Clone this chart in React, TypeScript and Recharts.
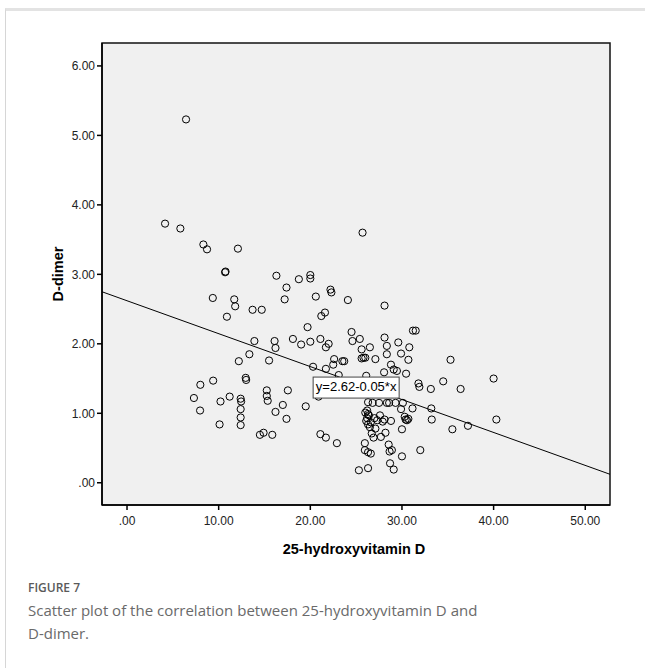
import React from "react";
import {
  ScatterChart,
  Scatter,
  XAxis,
  YAxis,
  CartesianGrid,
  ReferenceLine,
  ReferenceArea,
  ReferenceDot,
  Label,
} from "recharts";

// 25-hydroxyvitamin D (x) and D-dimer (y) per patient
const vitaminD = [
  6.44, 4.15, 5.82, 8.33, 8.73, 12.1, 10.7, 10.75, 16.3, 17.4,
  18.75, 20.0, 20.0, 22.2, 22.3, 25.7, 20.6, 24.1, 9.36, 11.7,
  11.8, 10.9, 13.7, 14.7, 17.2, 19.7, 21.2, 21.6, 24.5, 24.6,
  25.4, 25.6, 13.9, 16.1, 16.2, 18.1, 19.0, 20.0, 21.1, 21.7,
  22.0, 13.35, 12.2, 15.5, 20.3, 21.7, 22.6, 22.5, 23.5, 23.7,
  23.1, 25.8, 26.0, 9.4, 8.0, 7.3, 7.97, 10.1, 10.2, 11.2,
  12.4, 12.45, 12.4, 12.4, 12.4, 12.95, 13.0, 15.25, 15.25, 15.35,
  17.55, 17.0, 16.2, 17.4, 19.5, 14.5, 14.9, 15.85, 21.1, 21.7,
  22.9, 25.3, 26.3, 28.1, 31.2, 31.5, 26.5, 28.1, 28.35, 29.6,
  30.8, 29.9, 28.35, 30.7, 27.1, 35.3, 28.8, 29.1, 29.45, 28.05,
  30.45, 26.1, 31.8, 31.9, 33.15, 34.5, 36.4, 40.0, 40.3, 37.2,
  35.5, 33.25, 33.2, 31.15, 32.0, 30.0, 30.4, 30.55, 30.7, 30.3,
  29.9, 30.1, 29.3, 28.6, 28.35, 27.5, 26.8, 26.3, 28.8, 28.1,
  27.9, 27.6, 27.1, 28.2, 26.9, 27.7, 26.7, 26.2, 26.3, 26.2,
  26.1, 26.3, 26.5, 25.95, 25.95, 26.3, 26.6, 28.55, 28.65, 28.9,
  28.7, 29.1, 30.0, 20.9, 26.0, 26.4, 27.0, 27.3, 26.6, 25.6,
];

const dDimer = [
  5.23, 3.73, 3.66, 3.43, 3.36, 3.37, 3.03, 3.04, 2.98, 2.81,
  2.93, 2.99, 2.94, 2.78, 2.74, 3.6, 2.68, 2.63, 2.66, 2.64,
  2.54, 2.39, 2.49, 2.49, 2.64, 2.24, 2.4, 2.45, 2.17, 2.04,
  2.07, 1.92, 2.04, 2.04, 1.94, 2.07, 1.99, 2.03, 2.07, 1.95,
  2.0, 1.85, 1.75, 1.76, 1.67, 1.64, 1.78, 1.7, 1.75, 1.75,
  1.55, 1.8, 1.8, 1.47, 1.41, 1.22, 1.04, 0.84, 1.17, 1.24,
  1.21, 1.17, 1.06, 0.94, 0.83, 1.51, 1.48, 1.33, 1.25, 1.18,
  1.33, 1.12, 1.02, 0.92, 1.1, 0.69, 0.72, 0.69, 0.7, 0.65,
  0.57, 0.18, 0.21, 2.55, 2.19, 2.19, 1.95, 2.09, 1.97, 2.02,
  1.95, 1.86, 1.85, 1.77, 1.78, 1.77, 1.7, 1.63, 1.61, 1.59,
  1.57, 1.54, 1.43, 1.38, 1.35, 1.46, 1.35, 1.5, 0.91, 0.82,
  0.77, 0.91, 1.07, 1.07, 0.47, 0.77, 0.91, 0.9, 0.92, 0.95,
  1.06, 1.15, 1.15, 1.15, 1.15, 1.15, 1.15, 1.16, 0.89, 0.91,
  0.88, 0.97, 0.78, 0.72, 0.65, 0.66, 0.71, 1.04, 0.99, 0.93,
  0.89, 0.84, 0.8, 0.57, 0.47, 0.44, 0.42, 0.55, 0.45, 0.47,
  0.28, 0.19, 0.38, 1.24, 1.01, 0.97, 0.93, 0.9, 0.87, 1.79,
];

const xTicks = [0, 10, 20, 30, 40, 50];
const yTicks = [0, 1, 2, 3, 4, 5, 6];

// fitted linear regression
const intercept = 2.62;
const slope = 0.0474;

const xDomain: [number, number] = [-2.73, 52.7];
const yDomain: [number, number] = [-0.32, 6.33];

const points = vitaminD.map((x, i) => ({ x, y: dDimer[i] }));
const fitAt = (x: number) => intercept - slope * x;
const equationText = `y=${intercept.toFixed(2)}-${slope.toFixed(2)}*x`;
const equationX = 25;

const fmt = (v: number) => (v === 0 ? ".00" : v.toFixed(2));

const FONT = "'Liberation Sans', Arial, sans-serif";

const OpenCircle = (props: any) => {
  const { cx, cy } = props;
  return <circle cx={cx} cy={cy} r={3.6} fill="none" stroke="#000" strokeWidth={1} />;
};

const EquationBox = (props: any) => {
  const { cx, cy } = props;
  const w = 86;
  const h = 21;
  return (
    <g>
      <rect x={cx - w / 2} y={cy - 6} width={w} height={h} fill="#fff" stroke="#444" strokeWidth={1} />
      <text
        x={cx}
        y={cy + 4.5}
        textAnchor="middle"
        dominantBaseline="middle"
        fontFamily={FONT}
        fontSize={13}
        fill="#000"
      >
        {equationText}
      </text>
    </g>
  );
};

export default function App() {
  return (
    <div
      style={{
        position: "absolute",
        left: 0,
        top: 0,
        width: 645,
        height: 668,
        background: "#fff",
        overflow: "hidden",
      }}
    >
      <div
        style={{
          position: "absolute",
          left: 5,
          top: 8,
          width: 660,
          height: 680,
          borderTop: "3px solid #e3e3e3",
          borderLeft: "1px solid #d6d6d6",
        }}
      />
      <div style={{ position: "absolute", left: 0, top: 0 }}>
        <ScatterChart
          width={645}
          height={560}
          margin={{ top: 43, right: 35, left: 0, bottom: 0 }}
        >
          <CartesianGrid fill="#f0f0f0" horizontal={false} vertical={false} />
          <XAxis
            type="number"
            dataKey="x"
            domain={xDomain}
            ticks={xTicks}
            tickFormatter={fmt}
            allowDataOverflow
            height={55}
            tickSize={5}
            tickMargin={6}
            axisLine={{ stroke: "#000", strokeWidth: 1.5 }}
            tickLine={{ stroke: "#000", strokeWidth: 1.5 }}
            tick={{ fontFamily: FONT, fontSize: 12, fill: "#222" }}
          >
            <Label
              content={(p: any) => {
                const vb = p.viewBox;
                return (
                  <text
                    x={vb.x + vb.width / 2 - 2}
                    y={vb.y + 49}
                    textAnchor="middle"
                    fontFamily={FONT}
                    fontWeight="bold"
                    fontSize={14.5}
                    fill="#000"
                  >
                    25-hydroxyvitamin D
                  </text>
                );
              }}
            />
          </XAxis>
          <YAxis
            type="number"
            dataKey="y"
            domain={yDomain}
            ticks={yTicks}
            tickFormatter={fmt}
            allowDataOverflow
            width={102}
            tickSize={5}
            tickMargin={2}
            axisLine={{ stroke: "#000", strokeWidth: 1.5 }}
            tickLine={{ stroke: "#000", strokeWidth: 1.5 }}
            tick={{ fontFamily: FONT, fontSize: 12, fill: "#222" }}
          >
            <Label
              content={(p: any) => {
                const vb = p.viewBox;
                const cx = 63;
                const cy = vb.y + vb.height / 2;
                return (
                  <text
                    x={cx}
                    y={cy}
                    transform={`rotate(-90, ${cx}, ${cy})`}
                    textAnchor="middle"
                    fontFamily={FONT}
                    fontWeight="bold"
                    fontSize={14.5}
                    fill="#000"
                  >
                    D-dimer
                  </text>
                );
              }}
            />
          </YAxis>
          <ReferenceArea
            x1={xDomain[0]}
            x2={xDomain[1]}
            y1={yDomain[0]}
            y2={yDomain[1]}
            fill="none"
            stroke="#111"
            strokeWidth={1.5}
          />
          <ReferenceLine
            segment={[
              { x: xDomain[0], y: fitAt(xDomain[0]) },
              { x: xDomain[1], y: fitAt(xDomain[1]) },
            ]}
            stroke="#000"
            strokeWidth={1}
          />
          <Scatter data={points} shape={OpenCircle} isAnimationActive={false} />
          <ReferenceDot x={equationX} y={fitAt(equationX)} shape={EquationBox} />
        </ScatterChart>
      </div>
      <div
        style={{
          position: "absolute",
          left: 28,
          top: 579,
          fontFamily: "'Open Sans', sans-serif",
          fontSize: 12,
          fontWeight: 600,
          color: "#5a5a5a",
        }}
      >
        FIGURE 7
      </div>
      <div
        style={{
          position: "absolute",
          left: 28,
          top: 599,
          width: 600,
          fontFamily: "'Open Sans', sans-serif",
          fontSize: 15,
          lineHeight: "23px",
          color: "#6a6a6a",
        }}
      >
        Scatter plot of the correlation between 25-hydroxyvitamin D and
        <br />
        D-dimer.
      </div>
    </div>
  );
}
